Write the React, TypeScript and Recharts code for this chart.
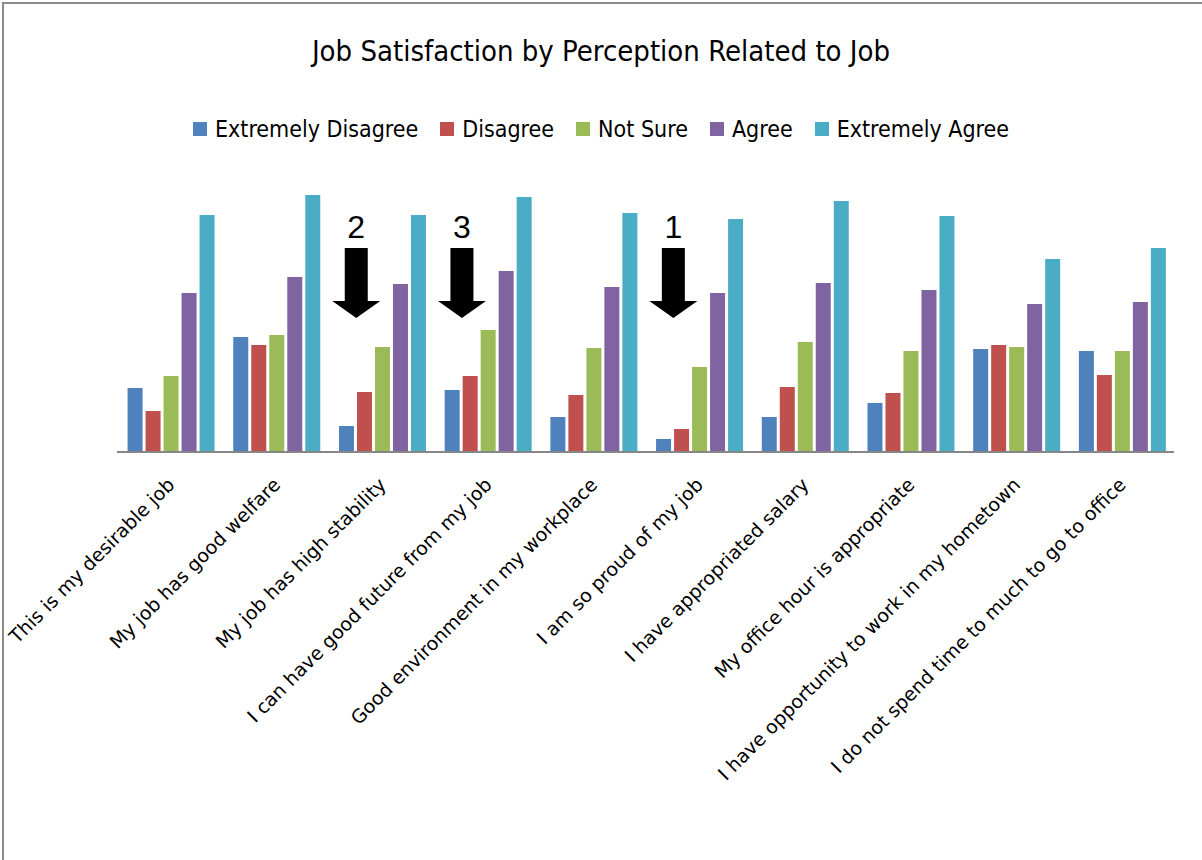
import React from 'react';
import { BarChart, Bar, XAxis, YAxis, Legend, ReferenceDot } from 'recharts';

const categories = [
  'This is my desirable job',
  'My job has good welfare',
  'My job has high stability',
  'I can have good future from my job',
  'Good environment in my workplace',
  'I am so proud of my job',
  'I have appropriated salary',
  'My office hour is appropriate',
  'I have opportunity to work in my hometown',
  'I do not spend time to much to go to office',
];

const extremelyDisagree = [64, 115, 26, 62, 35, 13, 35, 49, 103, 101];
const disagree = [41, 107, 60, 76, 57, 23, 65, 59, 107, 77];
const notSure = [76, 117, 105, 122, 104, 85, 110, 101, 105, 101];
const agree = [159, 175, 168, 181, 165, 159, 169, 162, 148, 150];
const extremelyAgree = [237, 257, 237, 255, 239, 233, 251, 236, 193, 204];

const seriesNames = ['Extremely Disagree', 'Disagree', 'Not Sure', 'Agree', 'Extremely Agree'];
const seriesKeys = ['ed', 'd', 'ns', 'a', 'ea'];
const seriesColors = ['#4F81BD', '#C0504D', '#9BBB59', '#8064A2', '#4BACC6'];

const arrowLabels = ['2', '3', '1'];
const arrowCategories = [categories[2], categories[3], categories[5]];
const arrowTipValue = [134, 134, 134];

const data = categories.map((c, i) => ({
  name: c,
  ed: extremelyDisagree[i],
  d: disagree[i],
  ns: notSure[i],
  a: agree[i],
  ea: extremelyAgree[i],
}));

const NARROW = "'Liberation Sans Narrow', 'DejaVu Sans Condensed', 'Arial Narrow', sans-serif";

const Tick = (props: any) => {
  const { x, y, payload } = props;
  const ax = x + 6;
  const ay = y + 26;
  return (
    <text
      x={ax}
      y={ay}
      transform={`rotate(-45 ${ax} ${ay})`}
      textAnchor="end"
      fontFamily="'DejaVu Sans', sans-serif"
      fontSize={19}
      fill="#000"
    >
      {payload.value}
    </text>
  );
};

const makeArrow = (label: string) => (props: any) => {
  const { cx, cy } = props;
  const x = cx - 25;
  const tip = cy;
  const headH = 17;
  const headW = 24;
  const shaftW = 11.5;
  const shaftTop = tip - 70;
  const pts = [
    [x - shaftW, shaftTop],
    [x + shaftW, shaftTop],
    [x + shaftW, tip - headH],
    [x + headW, tip - headH],
    [x, tip],
    [x - headW, tip - headH],
    [x - shaftW, tip - headH],
  ]
    .map((p) => p.join(','))
    .join(' ');
  return (
    <g>
      <polygon points={pts} fill="#000" />
      <text
        x={x}
        y={shaftTop - 10}
        textAnchor="middle"
        fontFamily="'Liberation Sans', Arial, sans-serif"
        fontSize={32}
        fill="#000"
      >
        {label}
      </text>
    </g>
  );
};

const LegendContent = () => (
  <div
    style={{
      display: 'flex',
      justifyContent: 'center',
      alignItems: 'center',
      width: 1202,
      fontFamily: NARROW,
      fontSize: 23,
      color: '#000',
    }}
  >
    {seriesNames.map((n, i) => (
      <div key={n} style={{ display: 'flex', alignItems: 'center', marginRight: i < seriesNames.length - 1 ? 22 : 0 }}>
        <span style={{ width: 14, height: 14, background: seriesColors[i], display: 'inline-block', marginRight: 8 }} />
        <span>{n}</span>
      </div>
    ))}
  </div>
);

export default function App() {
  return (
    <div style={{ position: 'absolute', left: 0, top: 0, width: 1202, height: 860, background: '#fff', overflow: 'hidden' }}>
      <div
        style={{
          position: 'absolute',
          left: 2,
          top: 2,
          width: 1200,
          height: 858,
          borderTop: '2px solid #8a8a8a',
          borderLeft: '2px solid #8a8a8a',
          boxSizing: 'border-box',
        }}
      />
      <div
        style={{
          position: 'absolute',
          left: 0,
          top: 34,
          width: 1202,
          textAlign: 'center',
          fontFamily: NARROW,
          fontSize: 29,
          color: '#000',
          lineHeight: '34px',
        }}
      >
        Job Satisfaction by Perception Related to Job
      </div>
      <BarChart
        width={1202}
        height={860}
        data={data}
        margin={{ top: 182, right: 28, left: 117, bottom: 8 }}
        barCategoryGap="10%"
        barGap={3}
      >
        <XAxis
          dataKey="name"
          height={400}
          interval={0}
          tickLine={false}
          axisLine={{ stroke: '#868686', strokeWidth: 2 }}
          tick={<Tick />}
        />
        <YAxis hide domain={[0, 270]} />
        <Legend
          layout="horizontal"
          verticalAlign="middle"
          align="center"
          content={<LegendContent />}
          wrapperStyle={{ top: 116, left: 0, width: 1202 }}
        />
        {seriesKeys.map((k, i) => (
          <Bar key={k} dataKey={k} name={seriesNames[i]} fill={seriesColors[i]} isAnimationActive={false} />
        ))}
        {arrowLabels.map((l, i) => (
          <ReferenceDot
            key={l}
            x={arrowCategories[i]}
            y={arrowTipValue[i]}
            r={0}
            shape={makeArrow(l)}
            ifOverflow="visible"
          />
        ))}
      </BarChart>
    </div>
  );
}
